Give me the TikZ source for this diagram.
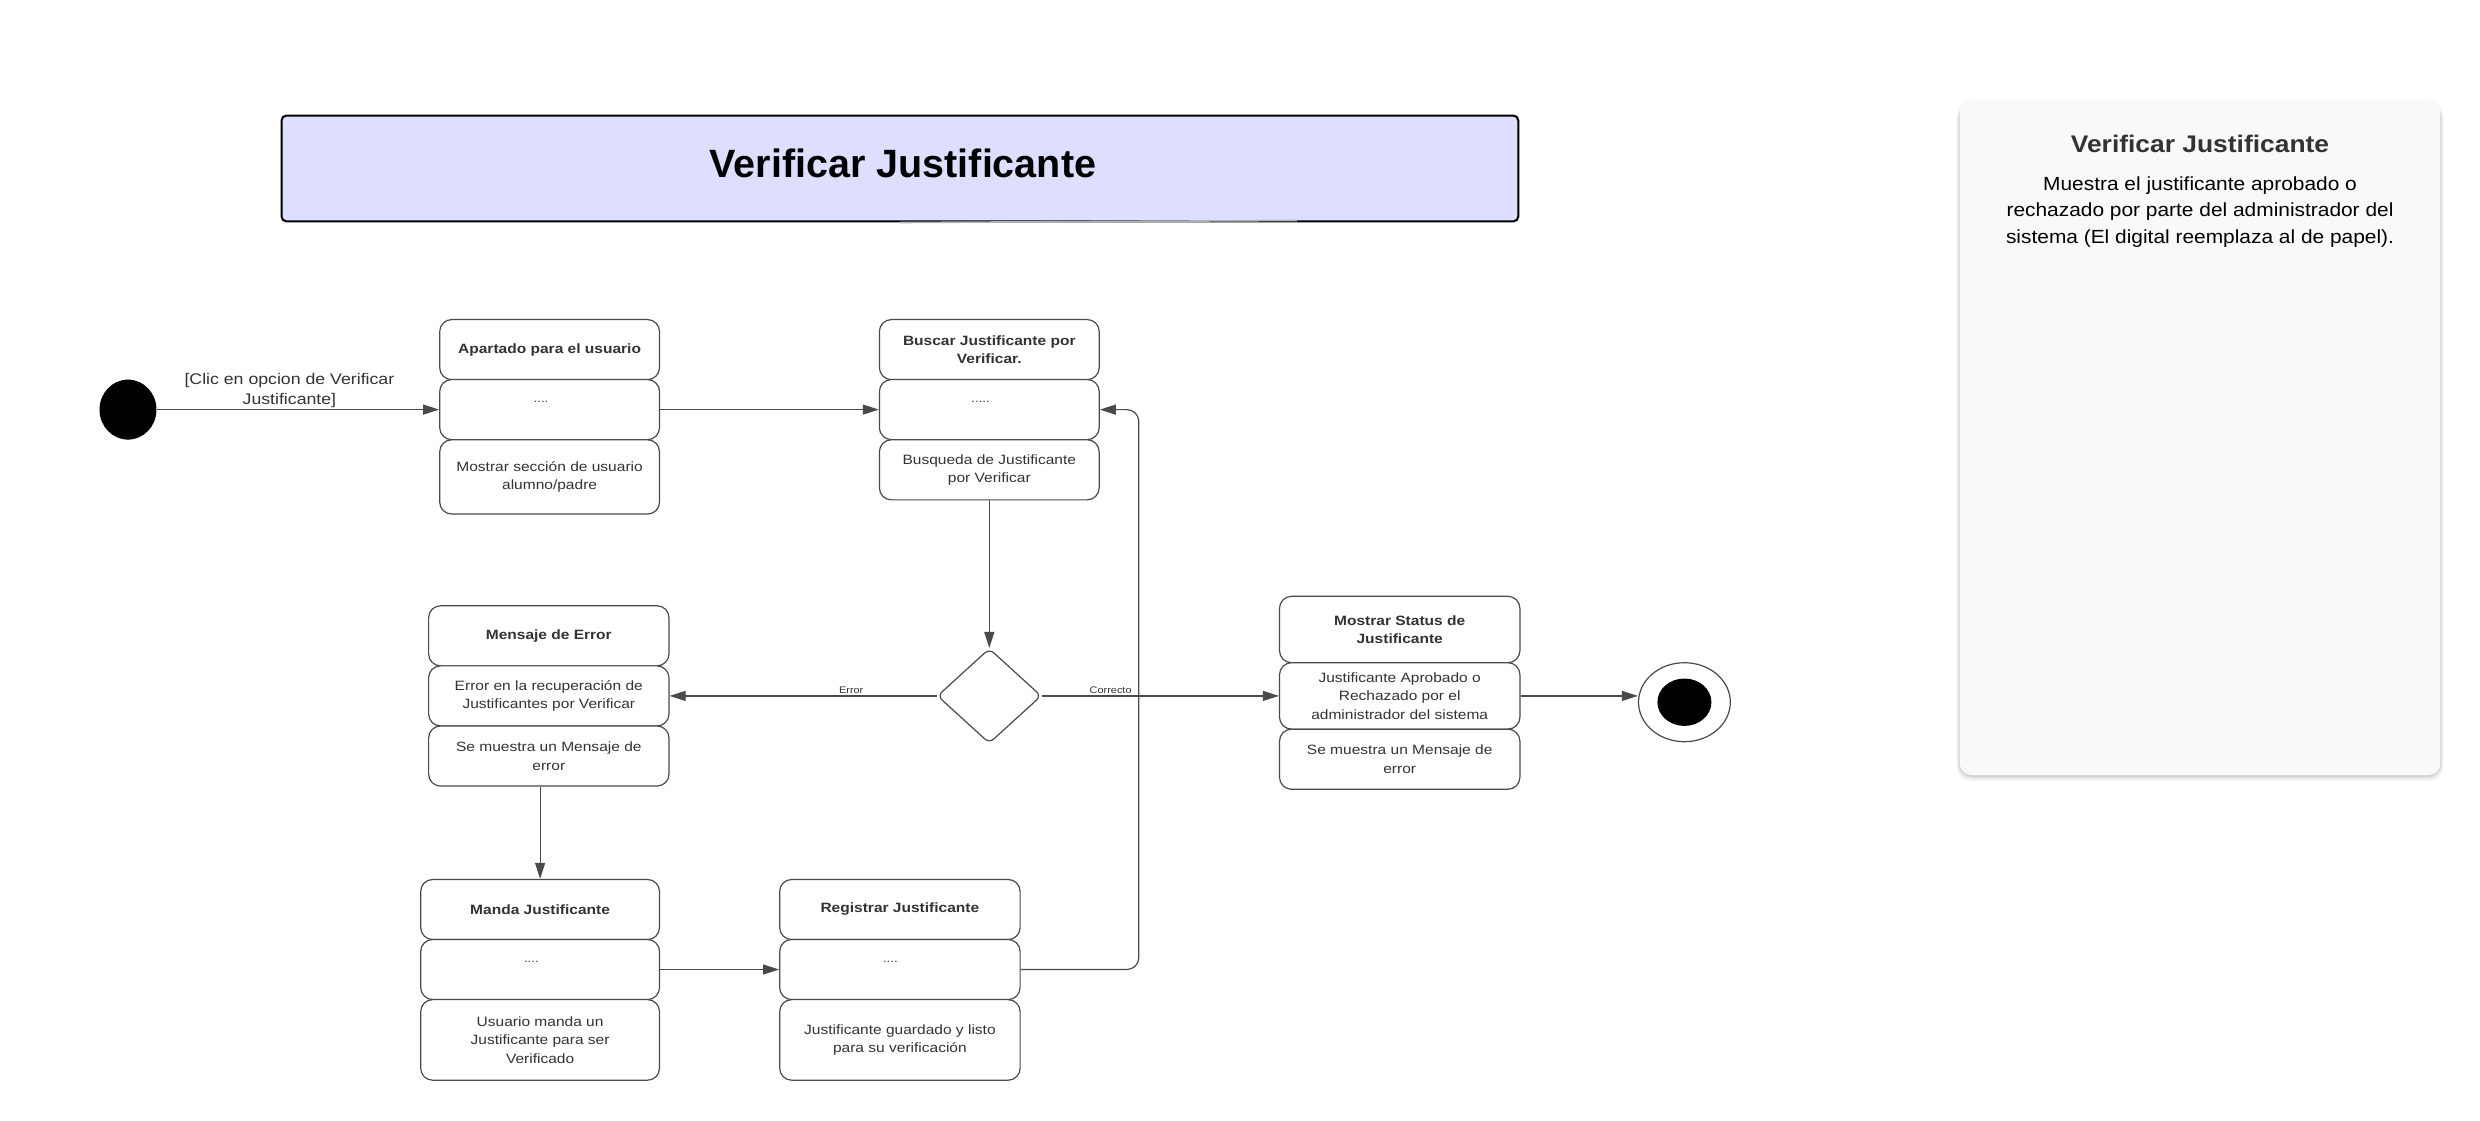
\documentclass[tikz,border=0pt]{standalone}
\usepackage{fontspec}
\setmainfont{Liberation Sans}
\newfontfamily\boxfont[FakeStretch=1.15]{Liberation Sans}
\newfontfamily\panelfont[FakeStretch=1.1]{Liberation Sans}
\usetikzlibrary{arrows.meta,shapes.geometric}
\definecolor{linec}{HTML}{4A4A4A}
\definecolor{txtc}{HTML}{333333}
\definecolor{titlefill}{HTML}{DEDEFF}
\definecolor{panelfill}{HTML}{F9F9F9}
\begin{document}
\begin{tikzpicture}[x=1pt,y=-1pt,
  comp/.style={draw=linec, line width=1.2pt, rounded corners=12pt, fill=white, inner sep=2pt,
    text=txtc, align=center, font=\boxfont\fontsize{13.5}{18.5}\selectfont},
  hd/.style={comp, font=\boxfont\bfseries\fontsize{13.5}{18.5}\selectfont},
  dotstxt/.style={text=txtc, inner sep=0pt, font=\boxfont\fontsize{11.5}{13}\selectfont},
  conn/.style={draw=linec, line width=1.2pt, -{Triangle[length=16pt,width=10pt]}},
  lbl/.style={text=txtc, font=\boxfont\fontsize{9.5}{11}\selectfont, inner sep=1.5pt}
]
\useasboundingbox (0,0) rectangle (2480,1120);
\fill[white] (0,0) rectangle (2480,1120);

% ---------- title ----------
\node[draw=black, line width=2pt, fill=titlefill, rounded corners=5pt,
      minimum width=1236.8pt, minimum height=105.9pt, inner sep=0] (title) at (899.9,168.45) {};
\draw[gray!60, line width=1.6pt] (900,222.5) -- (1297,220.5);
\node[font=\bfseries\fontsize{39.5}{45}\selectfont, text=black, inner sep=0] (titletext) at (903,163) {Verificar Justificante};

% ---------- right panel ----------
\foreach \i/\o in {6/0.04,4/0.06,2/0.08}{
  \fill[black, opacity=\o, rounded corners=14pt] (1959.6-\i/2,99.6+\i) rectangle (2440.4+\i/2,775+\i);
}
\node[fill=panelfill, rounded corners=12pt, minimum width=480.8pt, minimum height=675.4pt, inner sep=0] (panel) at (2200,437.3) {};
\node[font=\panelfont\bfseries\fontsize{24}{28}\selectfont, text=txtc, inner sep=0] (ptitle) at (2200,144) {Verificar Justificante};
\node[font=\panelfont\fontsize{19}{26.2}\selectfont, text=black, align=center, inner sep=0] (pbody) at (2200,212)
  {Muestra el justificante aprobado o\\rechazado por parte del administrador del\\sistema (El digital reemplaza al de papel).};

% ---------- start ----------
\node[ellipse, fill=black, minimum width=57pt, minimum height=60pt, inner sep=0] (start) at (128,409.6) {};
\node[font=\boxfont\fontsize{15.4}{20.5}\selectfont, text=txtc, align=center, inner sep=0] (startlab) at (289.4,390.5)
  {[Clic en opcion de Verificar\\Justificante]};

% ---------- box A ----------
\node[hd, minimum width=219.8pt, minimum height=60.1pt] (Ah) at (549.6,349.6) {Apartado para el usuario};
\node[comp, minimum width=219.8pt, minimum height=60.1pt] (Am) at (549.6,409.6) {};
\node[comp, minimum width=219.8pt, minimum height=74.3pt] (Ab) at (549.6,476.9) {Mostrar sección de usuario\\alumno/padre};
\node[dotstxt] (Ad) at (541,401.7) {....};

% ---------- box B ----------
\node[hd, minimum width=219.8pt, minimum height=60.1pt] (Bh) at (989.3,349.6) {Buscar Justificante por\\Verificar.};
\node[comp, minimum width=219.8pt, minimum height=60.1pt] (Bm) at (989.3,409.6) {};
\node[comp, minimum width=219.8pt, minimum height=60.1pt] (Bb) at (989.3,469.8) {Busqueda de Justificante\\por Verificar};
\node[dotstxt] (Bd) at (980.6,401.7) {.....};

% ---------- decision ----------
\node[diamond, draw=linec, line width=1.2pt, fill=white, minimum width=104pt, minimum height=94.8pt,
      inner sep=0, rounded corners=6pt] (dec) at (989.3,695.9) {};

% ---------- box E ----------
\node[hd, minimum width=240.4pt, minimum height=60.1pt] (Eh) at (548.8,635.8) {Mensaje de Error};
\node[comp, minimum width=240.4pt, minimum height=60.1pt] (Em) at (548.8,695.9) {Error en la recuperación de\\Justificantes por Verificar};
\node[comp, minimum width=240.4pt, minimum height=60.1pt] (Eb) at (548.8,756) {Se muestra un Mensaje de\\error};

% ---------- box S ----------
\node[hd, minimum width=240.4pt, minimum height=66.4pt] (Sh) at (1399.7,629.5) {Mostrar Status de\\Justificante};
\node[comp, minimum width=240.4pt, minimum height=66.4pt] (Sm) at (1399.7,695.9) {Justificante Aprobado o\\Rechazado por el\\administrador del sistema};
\node[comp, minimum width=240.4pt, minimum height=60.1pt] (Sb) at (1399.7,759.2) {Se muestra un Mensaje de\\error};

% ---------- end ----------
\node[ellipse, draw=linec, line width=1.2pt, fill=white, minimum width=91.8pt, minimum height=79pt, inner sep=0] (endo) at (1684.4,702.2) {};
\node[ellipse, fill=black, minimum width=54pt, minimum height=47.4pt, inner sep=0] (endi) at (endo.center) {};

% ---------- box M ----------
\node[hd, minimum width=238.8pt, minimum height=60.1pt] (Mh) at (540.1,909.5) {Manda Justificante};
\node[comp, minimum width=238.8pt, minimum height=60.1pt] (Mm) at (540.1,969.5) {};
\node[comp, minimum width=238.8pt, minimum height=80.6pt] (Mb) at (540.1,1039.9) {Usuario manda un\\Justificante para ser\\Verificado};
\node[dotstxt] (Md) at (531.4,961.6) {....};

% ---------- box R ----------
\node[hd, minimum width=240.4pt, minimum height=60.1pt] (Rh) at (899.9,909.5) {Registrar Justificante};
\node[comp, minimum width=240.4pt, minimum height=60.1pt] (Rm) at (899.9,969.5) {};
\node[comp, minimum width=240.4pt, minimum height=80.6pt] (Rb) at (899.9,1039.9) {Justificante guardado y listo\\para su verificación};
\node[dotstxt] (Rd) at (890.4,961.6) {....};

% ---------- connectors ----------
\draw[conn] (start) -- (Am.west);
\draw[conn] (Am.east) -- (Bm.west);
\draw[conn] (Bb.south) -- (dec.north);
\draw[conn] (dec.west) -- node[lbl, above, pos=0.32] {Error} (Em.east);
\draw[conn] (dec.east) -- node[lbl, above, pos=0.29] {Correcto} (Sm.west);
\draw[conn] (Sm.east) -- (Sm.east -| endo.west);
\draw[conn] (Eb.south -| Mh.north) -- (Mh.north);
\draw[conn] (Mm.east) -- (Rm.west);
\coordinate (loopx) at (1138.8,700);
\draw[conn, rounded corners=12pt] (Rm.east) -- (Rm.east -| loopx) -- (Bm.east -| loopx) -- (Bm.east);
\end{tikzpicture}
\end{document}
